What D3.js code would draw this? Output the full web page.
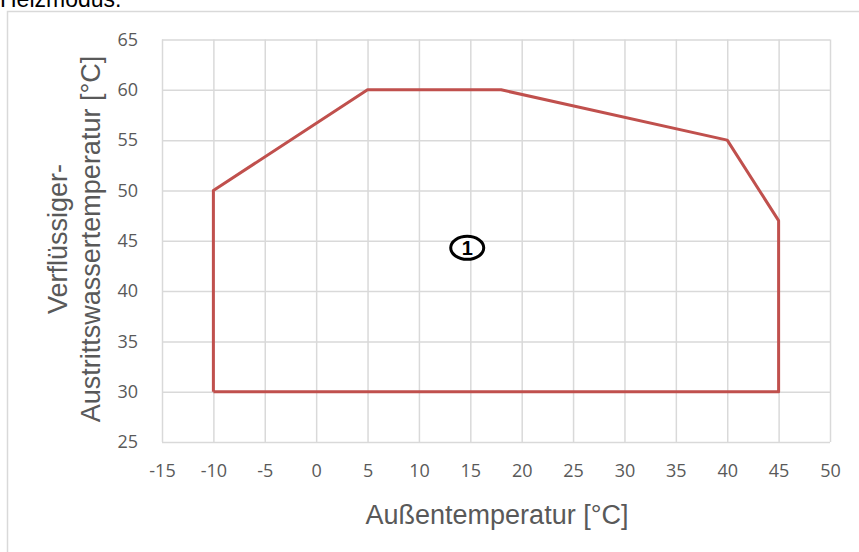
<!DOCTYPE html>
<html><head><meta charset="utf-8">
<script src="https://cdn.jsdelivr.net/npm/d3@7"></script>
<style>body{margin:0;background:#fff;}svg{display:block;}</style>
</head><body>
<script>
// Operating envelope (heating mode): outside temperature vs. condenser leaving water temperature
const xTicks = [-15,-10,-5,0,5,10,15,20,25,30,35,40,45,50];
const yTicks = [25,30,35,40,45,50,55,60,65];
const envelopeX = [-10,-10,5,18,40,45,45,-10];
const envelopeY = [30,50,60,60,55,47,30,30];
const zoneLabel = {x: 14.7, y: 44.3, text: "1"};

const W = 859, H = 552;
const svg = d3.select("body").append("svg").attr("width", W).attr("height", H);

// outer chart frame
svg.append("rect").attr("x", 7.5).attr("y", 11.5).attr("width", 900).attr("height", 600)
  .attr("fill", "#fff").attr("stroke", "#d9d9d9").attr("stroke-width", 1.5);

svg.append("text").attr("x", 0).attr("y", 7).attr("font-family", "Liberation Sans, Arial, sans-serif")
  .attr("font-size", 23).attr("fill", "#000").text("Heizmodus:");

const plot = {left: 162, right: 830, top: 39.5, bottom: 442};
const x = d3.scaleLinear().domain([-15, 50]).range([plot.left, plot.right]);
const y = d3.scaleLinear().domain([25, 65]).range([plot.bottom, plot.top]);

// gridlines
svg.append("g").attr("transform", `translate(0,${plot.bottom})`)
  .call(d3.axisBottom(x).tickValues(xTicks).tickSize(-(plot.bottom - plot.top)).tickFormat(""))
  .call(g => g.select(".domain").remove())
  .call(g => g.selectAll("line").attr("stroke", "#d9d9d9").attr("stroke-width", 1.5));
svg.append("g").attr("transform", `translate(${plot.left},0)`)
  .call(d3.axisLeft(y).tickValues(yTicks).tickSize(-(plot.right - plot.left)).tickFormat(""))
  .call(g => g.select(".domain").remove())
  .call(g => g.selectAll("line").attr("stroke", "#d9d9d9").attr("stroke-width", 1.5));

// tick labels
const tickFont = "Open Sans, sans-serif";
svg.append("g").attr("transform", `translate(0,${plot.bottom})`)
  .call(d3.axisBottom(x).tickValues(xTicks).tickSize(0).tickPadding(22).tickFormat(d3.format("d")))
  .call(g => g.select(".domain").remove())
  .call(g => g.selectAll("text").attr("font-family", tickFont).attr("font-size", 18).attr("fill", "#595959")
    .text(d => d < 0 ? "-" + Math.abs(d) : d));
svg.append("g").attr("transform", `translate(${plot.left},0)`)
  .call(d3.axisLeft(y).tickValues(yTicks).tickSize(0).tickPadding(24).tickFormat(d3.format("d")))
  .call(g => g.select(".domain").remove())
  .call(g => g.selectAll("text").attr("font-family", tickFont).attr("font-size", 18).attr("fill", "#595959"));

// axis titles
const titleFont = "Liberation Sans, Arial, sans-serif";
svg.append("text").attr("x", 497).attr("y", 524)
  .attr("text-anchor", "middle").attr("font-family", titleFont).attr("font-size", 27).attr("fill", "#595959")
  .text("Außentemperatur [°C]");
const yt = svg.append("text").attr("transform", `translate(0,239) rotate(-90)`)
  .attr("text-anchor", "middle").attr("font-family", titleFont).attr("font-size", 27).attr("fill", "#595959");
yt.append("tspan").attr("x", 0).attr("y", 67).text("Verflüssiger-");
yt.append("tspan").attr("x", 0).attr("y", 100).text("Austrittswassertemperatur [°C]");

// envelope outline
const pts = envelopeX.map((v, i) => [v, envelopeY[i]]);
svg.append("path").datum(pts)
  .attr("d", d3.line().x(d => x(d[0])).y(d => y(d[1])))
  .attr("fill", "none").attr("stroke", "#c0504d").attr("stroke-width", 3).attr("stroke-linejoin", "round");

// zone marker
const zx = x(zoneLabel.x), zy = y(zoneLabel.y);
svg.append("ellipse").attr("cx", zx).attr("cy", zy).attr("rx", 16.5).attr("ry", 11.5)
  .attr("fill", "#fff").attr("stroke", "#000").attr("stroke-width", 3);
svg.append("text").attr("x", zx).attr("y", zy + 7).attr("text-anchor", "middle")
  .attr("font-family", titleFont).attr("font-weight", "bold").attr("font-size", 20).attr("fill", "#000")
  .text(zoneLabel.text);
</script>
</body></html>
